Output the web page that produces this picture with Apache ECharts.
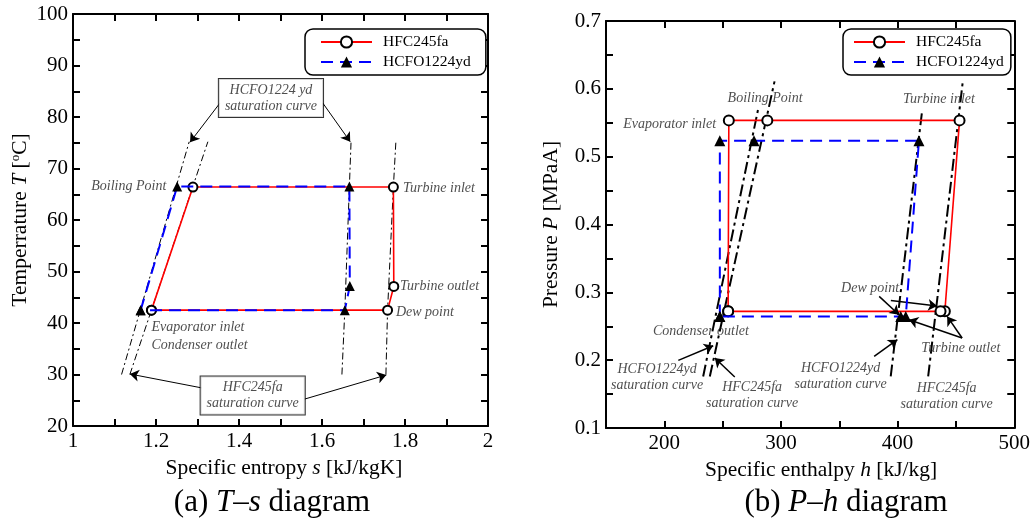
<!DOCTYPE html>
<html>
<head>
<meta charset="utf-8">
<style>
html, body { margin: 0; padding: 0; background: #fff; }
#chart { width: 1033px; height: 520px; }
</style>
<script src="https://cdn.jsdelivr.net/npm/echarts@6/dist/echarts.min.js"></script>
</head>
<body>
<div id="chart"></div>
<script>
// (a) T-s diagram, points are [s kJ/kgK, T degC]
var tsHFC245fa = [[1.189, 42.5], [1.289, 66.4], [1.772, 66.4], [1.773, 47.1], [1.758, 42.5], [1.189, 42.5]];
var tsHCFO1224yd = [[1.163, 42.5], [1.251, 66.5], [1.666, 66.5], [1.667, 47.2], [1.655, 42.5], [1.163, 42.5]];
var tsSatHFCLiquid = [[1.137, 30], [1.325, 75.2]];
var tsSatHFCVapor = [[1.754, 30], [1.758, 42.5], [1.772, 66.4], [1.778, 75.2]];
var tsSatHCFOLiquid = [[1.117, 30], [1.280, 75.2]];
var tsSatHCFOVapor = [[1.648, 30], [1.655, 42.5], [1.666, 66.5], [1.670, 75.2]];

// (b) P-h diagram, points are [h kJ/kg, P MPaA]
var phHFC245fa = [[254.7, 0.272], [255.3, 0.5535], [288.3, 0.5535], [453.1, 0.5535], [440.5, 0.272], [436.8, 0.272], [254.7, 0.272]];
var phHCFO1224yd = [[247.6, 0.2645], [247.6, 0.5236], [276.9, 0.5236], [418.3, 0.5236], [407.0, 0.2645], [402.7, 0.2645], [247.6, 0.2645]];
var phSatHFCLiquid = [[239.0, 0.176], [294.5, 0.611]];
var phSatHFCVapor = [[426.2, 0.176], [455.9, 0.611]];
var phSatHCFOLiquid = [[233.3, 0.176], [280.3, 0.569]];
var phSatHCFOVapor = [[394.1, 0.176], [421.1, 0.569]];

// annotations: [text, x, y, side of the point]
var tsNotes = [
    ['Boiling Point', 1.226, 66.6, 'left'],
    ['Turbine inlet', 1.794, 66.2, 'right'],
    ['Turbine outlet', 1.787, 47.2, 'right'],
    ['Dew point', 1.777, 42.1, 'right'],
    ['Evaporator inlet', 1.188, 39.1, 'right'],
    ['Condenser outlet', 1.188, 35.7, 'right']
];
var tsBoxNotes = [
    ['HCFO1224 yd\nsaturation curve', 1.477, 83.7],
    ['HFC245fa\nsaturation curve', 1.433, 25.9]
];
var tsArrows = [
    [[1.354, 82.7], [1.282, 75.1]],
    [[1.602, 82.7], [1.668, 75.2]],
    [[1.310, 27.4], [1.137, 30.1]],
    [[1.557, 25.2], [1.755, 29.9]]
];
var phNotes = [
    ['Evaporator inlet', 244.8, 0.548, 'left'],
    ['Boiling Point', 286.4, 0.5855, 'inside'],
    ['Turbine inlet', 435.4, 0.584, 'inside'],
    ['Dew point', 376.4, 0.3064, 'inside'],
    ['Turbine outlet', 454.2, 0.2169, 'inside'],
    ['Condenser outlet', 231.4, 0.2424, 'inside'],
    ['HCFO1224yd\nsaturation curve', 193.8, 0.1749, 'inside'],
    ['HFC245fa\nsaturation curve', 275.3, 0.1487, 'inside'],
    ['HCFO1224yd\nsaturation curve', 351.1, 0.1761, 'inside'],
    ['HFC245fa\nsaturation curve', 442.0, 0.1464, 'inside']
];
var phArrows = [
    [[212.0, 0.1997], [241.9, 0.2213]],
    [[260.4, 0.1752], [243.3, 0.2032]],
    [[379.9, 0.2056], [399.8, 0.2302]],
    [[384.2, 0.294], [401.2, 0.267]],
    [[394.2, 0.288], [433.9, 0.280]],
    [[455.3, 0.2327], [409.8, 0.2597]],
    [[455.3, 0.2327], [442.5, 0.2645]]
];

var SERIF = '"Liberation Serif", "Times New Roman", serif';
var chart = echarts.init(document.getElementById('chart'));

function frameAxis(gridIndex, position, min, max, interval, labelFn, name, nameGap, namePad) {
    var main = !!labelFn;
    return {
        gridIndex: gridIndex,
        type: 'value',
        position: position,
        min: min,
        max: max,
        interval: interval,
        axisLine: { show: true, onZero: false, lineStyle: { color: '#000', width: 2 } },
        axisTick: { show: true, inside: true, length: 7, lineStyle: { color: '#000', width: 2 } },
        axisLabel: {
            show: main,
            formatter: labelFn,
            fontFamily: SERIF,
            fontSize: 21,
            color: '#000',
            margin: 5
        },
        splitLine: { show: false },
        name: main ? name : '',
        nameLocation: 'middle',
        nameGap: nameGap,
        nameTextStyle: {
            fontFamily: SERIF,
            fontSize: 21.5,
            color: '#000',
            padding: namePad || 0,
            rich: nameRich
        }
    };
}

var nameRich = {
    i: { fontFamily: SERIF, fontSize: 21.5, fontStyle: 'italic', color: '#000' },
    sup: { fontFamily: SERIF, fontSize: 13, color: '#000', verticalAlign: 'bottom', padding: [0, 0, 9, 0] }
};

function tsX(v) { var k = Math.round(v * 10); return k % 2 === 0 ? String(k / 10) : ''; }
function tsY(v) { return Math.round(v) % 10 === 0 ? String(Math.round(v)) : ''; }
function phX(v) { return Math.round(v) % 100 === 0 ? String(Math.round(v)) : ''; }
function phY(v) { var k = Math.round(v * 100); return k % 10 === 0 ? (k / 100).toFixed(1) : ''; }

var noteFont = { fontFamily: SERIF, fontStyle: 'italic', fontSize: 14, color: '#222', lineHeight: 16 };

function noteSeries(notes, idx, boxed) {
    return {
        type: 'scatter',
        xAxisIndex: idx,
        yAxisIndex: idx,
        symbolSize: 1,
        silent: true,
        z: 6,
        itemStyle: { color: 'rgba(0,0,0,0)' },
        data: notes.map(function (n) {
            var lab = Object.assign({
                show: true,
                formatter: n[0],
                position: n[3] || 'inside',
                distance: 0,
                align: 'center'
            }, noteFont);
            if (n[3] === 'left') lab.align = 'right';
            if (n[3] === 'right') lab.align = 'left';
            if (boxed) {
                lab.backgroundColor = '#fff';
                lab.borderColor = '#000';
                lab.borderWidth = 1;
                lab.padding = [3, 6];
            }
            return { value: [n[1], n[2]], label: lab };
        })
    };
}

function arrowSeries(arrows, idx, width) {
    return {
        type: 'lines',
        coordinateSystem: 'cartesian2d',
        xAxisIndex: idx,
        yAxisIndex: idx,
        symbol: ['none', 'arrow'],
        symbolSize: 9,
        silent: true,
        z: 5,
        lineStyle: { color: '#000', width: width, opacity: 1 },
        data: arrows.map(function (a) { return { coords: a }; })
    };
}

function satSeries(data, idx, width, dash) {
    return {
        type: 'line',
        xAxisIndex: idx,
        yAxisIndex: idx,
        data: data,
        symbol: 'none',
        silent: true,
        z: 3,
        lineStyle: { color: '#000', width: width, type: dash }
    };
}

function cycleSeries(name, data, idx, isHFC, size) {
    return {
        name: name,
        type: 'line',
        xAxisIndex: idx,
        yAxisIndex: idx,
        data: data,
        symbol: isHFC ? 'circle' : 'triangle',
        symbolSize: size,
        z: isHFC ? 4 : 5,
        lineStyle: isHFC ? { color: '#ff0000', width: 1.6, type: 'solid' }
                         : { color: '#0000ff', width: 2, type: [12, 7] },
        itemStyle: isHFC ? { color: '#fff', borderColor: '#000', borderWidth: 2 }
                         : { color: '#000', borderColor: '#000', borderWidth: 0 }
    };
}

function legendBox(left, padLeft, padRight) {
    return {
        data: ['HFC245fa', 'HCFO1224yd'],
        orient: 'vertical',
        left: left,
        top: 29,
        padding: [5, padRight, 5, padLeft],
        itemWidth: 51,
        itemHeight: 14,
        itemGap: 4,
        borderColor: '#000',
        borderWidth: 1.5,
        borderRadius: 8,
        backgroundColor: '#fff',
        textStyle: { fontFamily: SERIF, fontSize: 15.5, color: '#000', lineHeight: 14, padding: [0, 0, 0, 6] }
    };
}

var option = {
    animation: false,
    backgroundColor: '#fff',
    grid: [
        { left: 73, top: 14, width: 415, height: 412 },
        { left: 606, top: 21, width: 410, height: 407 }
    ],
    legend: [legendBox(305, 15, 15), legendBox(843, 10, 7)],
    xAxis: [
        frameAxis(0, 'bottom', 1, 2, 0.1, tsX, 'Specific entropy {i|s} [kJ/kgK]', 27, [0, 0, 0, 7]),
        frameAxis(0, 'top', 1, 2, 0.1, null),
        frameAxis(1, 'bottom', 150, 500, 50, phX, 'Specific enthalpy {i|h} [kJ/kg]', 26, [0, 0, 0, 22]),
        frameAxis(1, 'top', 150, 500, 50, null)
    ],
    yAxis: [
        frameAxis(0, 'left', 20, 100, 5, tsY, 'Temperrature {i|T} [{sup|o}C]', 42),
        frameAxis(0, 'right', 20, 100, 5, null),
        frameAxis(1, 'left', 0.1, 0.7, 0.05, phY, 'Pressure {i|P} [MPaA]', 44),
        frameAxis(1, 'right', 0.1, 0.7, 0.05, null)
    ],
    series: [
        satSeries(tsSatHFCLiquid, 0, 1, [7, 3, 2, 3]),
        satSeries(tsSatHFCVapor, 0, 1, [7, 3, 2, 3]),
        satSeries(tsSatHCFOLiquid, 0, 1, [7, 3, 2, 3]),
        satSeries(tsSatHCFOVapor, 0, 1, [7, 3, 2, 3]),
        cycleSeries('HFC245fa', tsHFC245fa, 0, true, 9),
        cycleSeries('HCFO1224yd', tsHCFO1224yd, 0, false, 10),
        arrowSeries(tsArrows, 0, 1),
        noteSeries(tsNotes, 0, false),
        noteSeries(tsBoxNotes, 0, true),

        satSeries(phSatHFCLiquid, 2, 2, [12, 4, 3, 4]),
        satSeries(phSatHFCVapor, 2, 2, [12, 4, 3, 4]),
        satSeries(phSatHCFOLiquid, 2, 2, [12, 4, 3, 4]),
        satSeries(phSatHCFOVapor, 2, 2, [12, 4, 3, 4]),
        cycleSeries('HFC245fa', phHFC245fa, 2, true, 10),
        cycleSeries('HCFO1224yd', phHCFO1224yd, 2, false, 11),
        arrowSeries(phArrows, 2, 1.5),
        noteSeries(phNotes, 2, false)
    ],
    graphic: [
        {
            type: 'text', x: 272, y: 503,
            style: {
                text: '(a) {i|T}–{i|s} diagram',
                fontFamily: SERIF, fontSize: 31, fill: '#000',
                align: 'center', verticalAlign: 'middle',
                rich: { i: { fontFamily: SERIF, fontSize: 31, fontStyle: 'italic', fill: '#000' } }
            }
        },
        {
            type: 'text', x: 846, y: 503,
            style: {
                text: '(b) {i|P}–{i|h} diagram',
                fontFamily: SERIF, fontSize: 31, fill: '#000',
                align: 'center', verticalAlign: 'middle',
                rich: { i: { fontFamily: SERIF, fontSize: 31, fontStyle: 'italic', fill: '#000' } }
            }
        }
    ]
};
chart.setOption(option);
</script>
</body>
</html>
